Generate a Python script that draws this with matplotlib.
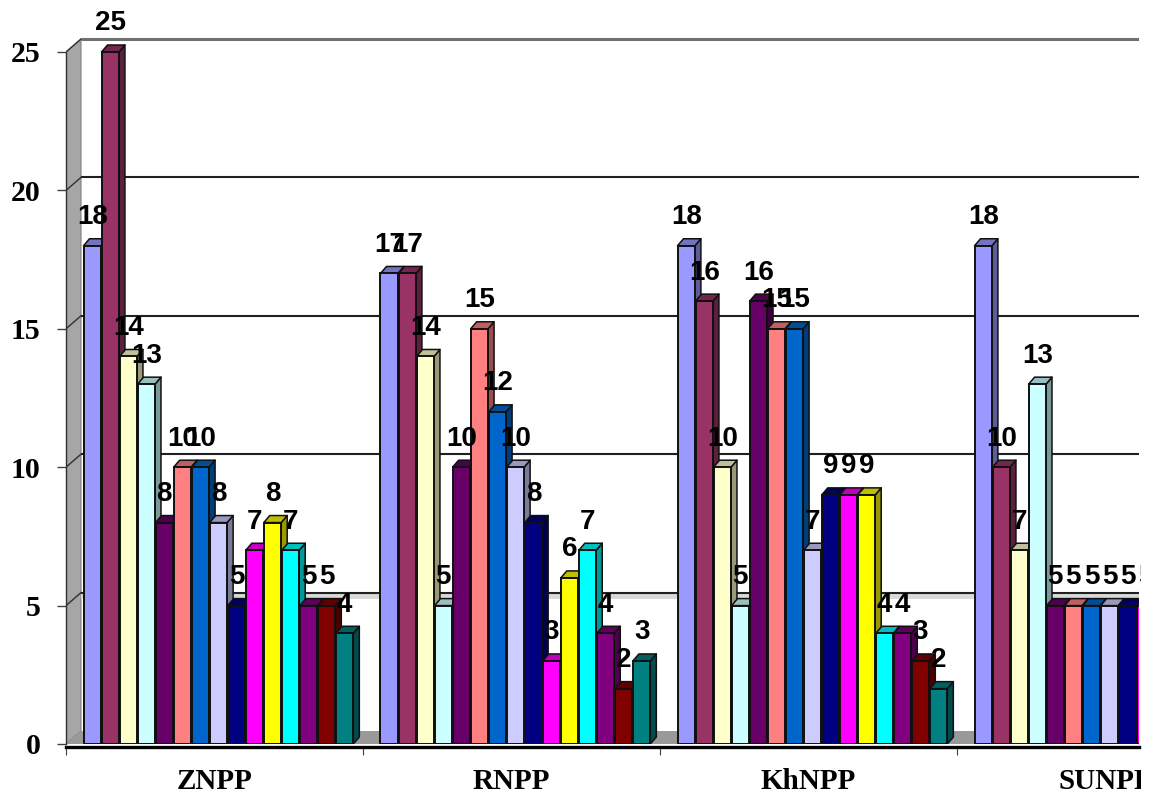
import matplotlib
matplotlib.use("Agg")
import matplotlib.pyplot as plt
from matplotlib.colors import to_rgb
from matplotlib.patches import Polygon, Rectangle

plants = ["ZNPP", "RNPP", "KhNPP", "SUNPP"]
znpp = [18, 25, 14, 13, 8, 10, 10, 8, 5, 7, 8, 7, 5, 5, 4]
rnpp = [17, 17, 14, 5, 10, 15, 12, 10, 8, 3, 6, 7, 4, 2, 3]
khnpp = [18, 16, 10, 5, 16, 15, 15, 7, 9, 9, 9, 4, 4, 3, 2]
sunpp = [18, 10, 7, 13, 5, 5, 5, 5, 5, 5]
y_ticks = [0, 5, 10, 15, 20, 25]
colors = ["#9999FF", "#993366", "#FFFFCC", "#CCFFFF", "#660066", "#FF8080",
          "#0066CC", "#CCCCFF", "#000080", "#FF00FF", "#FFFF00", "#00FFFF",
          "#800080", "#800000", "#008080"]

W, H = 1155, 794
LEFT, RIGHT, BASE = 66, 1139, 744       # plot area edges, pixels
GROUP_PX, UNIT_PX = 297.0, 27.68        # pixels per category / per value unit

fig = plt.figure(figsize=(W / 100, H / 100), dpi=100)
ax = fig.add_axes([LEFT / W, (H - BASE) / H, (RIGHT - LEFT) / W, BASE / H])
ax.set_xlim(0, (RIGHT - LEFT) / GROUP_PX)
ax.set_ylim(0, BASE / UNIT_PX)

# depth of the box and of each bar, in data units
wall_dx, wall_dy = 15 / GROUP_PX, 13 / UNIT_PX
bar_dx, bar_dy = 6.0 / GROUP_PX, 7.0 / UNIT_PX
bar_start, bar_step, bar_w = 17.5 / GROUP_PX, 18.03 / GROUP_PX, 17.4 / GROUP_PX
x_end = ax.get_xlim()[1]

# side wall and floor of the box
ax.add_patch(Polygon([(0, 0), (wall_dx, wall_dy), (wall_dx, 25 + wall_dy), (0, 25)],
                     fc="#A6A6A6", ec="#808080", lw=0.8, zorder=1))
ax.add_patch(Polygon([(0, 0), (wall_dx, wall_dy), (x_end, wall_dy), (x_end, 0)],
                     fc="#999999", ec="none", zorder=1))

# gridlines on the back plane, with the short diagonal across the wall
for v in y_ticks[1:]:
    top = v == 25
    ax.plot([wall_dx, x_end], [v + wall_dy] * 2, color="#707070" if top else "#202020",
            lw=2.2 if top else 1.5, zorder=2, solid_capstyle="butt")
    ax.plot([0, wall_dx], [v, v + wall_dy], color="#303030", lw=1.0, zorder=2)
ax.fill_between([wall_dx, x_end], 5 + wall_dy - 0.22, 5 + wall_dy - 0.05,
                color="#D9D9D9", lw=0, zorder=1.5)


def shade(color, factor):
    return tuple(c * factor for c in to_rgb(color))


# clip for text running off the right edge of the chart
edge = Rectangle((0, 0), 1141 / W, 1, transform=fig.transFigure)

z = 3
for g, series in enumerate([znpp, rnpp, khnpp, sunpp]):
    for i, v in enumerate(series):
        x0 = g + bar_start + i * bar_step
        x1 = x0 + bar_w
        c = colors[i]
        ax.add_patch(Polygon([(x1, 0), (x1 + bar_dx, bar_dy), (x1 + bar_dx, v + bar_dy), (x1, v)],
                             fc=shade(c, 0.6), ec="#101010", lw=1.1, zorder=z, joinstyle="round"))
        ax.add_patch(Polygon([(x0, v), (x0 + bar_dx, v + bar_dy), (x1 + bar_dx, v + bar_dy), (x1, v)],
                             fc=shade(c, 0.75), ec="#101010", lw=1.1, zorder=z, joinstyle="round"))
        ax.bar(x0, v, width=bar_w, align="edge", color=c, edgecolor="#101010",
               linewidth=1.4, zorder=z + 0.1)
        label = ax.text((x0 + x1) / 2, v + 28.5 / UNIT_PX, str(v), ha="center", va="center",
                        family="Liberation Sans", fontweight="bold", fontsize=20,
                        color="black", zorder=100, clip_on=True)
        label.set_clip_path(edge)
        z += 1

# axes lines, ticks and labels
for side in ("top", "right"):
    ax.spines[side].set_visible(False)
ax.spines["left"].set_bounds(0, 25)
ax.spines["left"].set_color("#303030")
ax.spines["left"].set_linewidth(1.0)
ax.spines["bottom"].set_position(("outward", 2))
ax.spines["bottom"].set_linewidth(2.4)
ax.spines["bottom"].set_color("black")

ax.set_yticks(y_ticks)
ax.set_yticklabels([str(v) for v in y_ticks], family="Liberation Serif",
                   fontweight="bold", fontsize=21.5)
ax.tick_params(axis="y", length=6.5, width=1.0, color="#404040", pad=12)

ax.set_xticks([0, 1, 2, 3])
ax.set_xticklabels([])
ax.tick_params(axis="x", which="major", length=5.5, width=0.8, color="#404040")
ax.set_xticks([g + 0.5 for g in range(len(plants))], minor=True)
ax.set_xticklabels(plants, minor=True, family="Liberation Serif",
                   fontweight="bold", fontsize=21)
ax.tick_params(axis="x", which="minor", length=0, pad=15)

for lab in ax.get_xticklabels(minor=True):
    lab.set_clip_on(True)
    lab.set_clip_path(edge)

fig.savefig("out.png", dpi=100, facecolor="white")
